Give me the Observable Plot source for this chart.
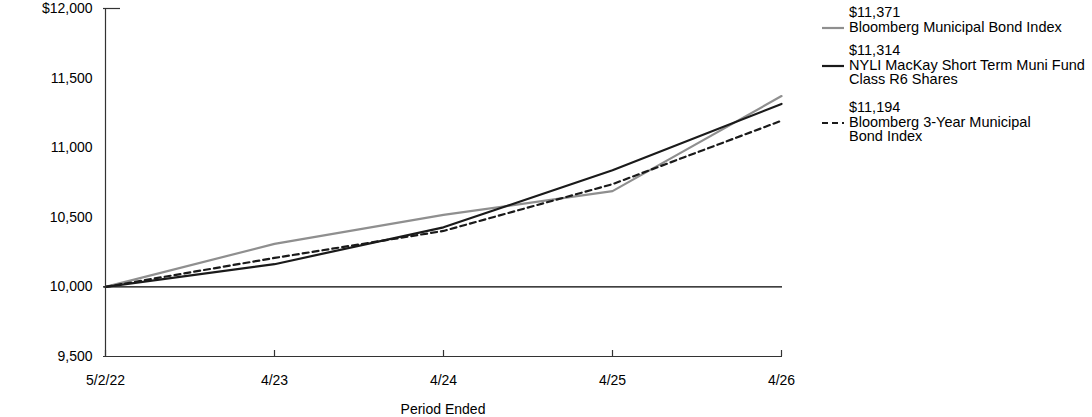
<!DOCTYPE html>
<html>
<head>
<meta charset="utf-8">
<script src="https://cdn.jsdelivr.net/npm/d3@7"></script>
<script src="https://cdn.jsdelivr.net/npm/@observablehq/plot@0.6"></script>
<style>
  html, body { margin: 0; padding: 0; background: #fff; }
  body { font-family: Arial, "Liberation Sans", sans-serif; }
  #wrap { position: relative; width: 1092px; height: 417px; }
  #legend { position: absolute; left: 822px; top: 0; font-size: 14.5px; color: #000; }
  .entry { position: absolute; left: 0; white-space: nowrap; }
  .entry .txt { position: absolute; left: 27px; top: 0; line-height: 14.5px; }
  .entry svg { position: absolute; left: 0; }
</style>
</head>
<body>
<div id="wrap"><div id="legend"></div></div>
<script>
// ---- data ----
const periods = ["5/2/22", "4/23", "4/24", "4/25", "4/26"];
const muniIndex = [10000, 10309, 10517, 10688, 11371];
const fund = [10000, 10163, 10428, 10838, 11314];
const threeYear = [10000, 10208, 10402, 10738, 11194];
const yTicks = [9500, 10000, 10500, 11000, 11500, 12000];

const seriesNames = [
  "Bloomberg Municipal Bond Index",
  "NYLI MacKay Short Term Muni Fund\nClass R6 Shares",
  "Bloomberg 3-Year Municipal\nBond Index"
];
const seriesValues = [muniIndex, fund, threeYear];
const seriesColors = ["#8f8f8f", "#1a1a1a", "#1a1a1a"];
const seriesDash = [null, null, "6,4"];
const legendLabels = ["$11,371", "$11,314", "$11,194"];

const rows = [];
seriesValues.forEach((vals, s) => vals.forEach((v, i) => rows.push({series: s, period: periods[i], value: v})));

const fmt = d3.format(",");
const chart = Plot.plot({
  width: 1092,
  height: 417,
  marginLeft: 103,
  marginRight: 310,
  marginTop: 8,
  marginBottom: 61,
  style: {fontFamily: "Arial, 'Liberation Sans', sans-serif", fontSize: "14px", color: "#000", background: "#fff"},
  x: {type: "point", domain: periods, padding: 0, label: null},
  y: {domain: [9500, 12000], label: null},
  marks: [
    Plot.ruleY([10000], {stroke: "#000", strokeWidth: 1.2}),
    ...seriesValues.map((vals, s) =>
      Plot.line(rows.filter(r => r.series === s), {
        x: "period", y: "value",
        stroke: seriesColors[s], strokeWidth: 2.2,
        strokeDasharray: seriesDash[s] ?? undefined
      })
    ),
    // axis lines
    Plot.ruleY([9500], {stroke: "#333", strokeWidth: 1.2}),
    Plot.ruleX([periods[0]], {y1: 9500, y2: 12000, stroke: "#333", strokeWidth: 1.2}),
    Plot.axisY({ticks: [12000], tickSize: -17, text: null, stroke: "#333", strokeWidth: 1.2}),
    Plot.axisY({ticks: yTicks, tickSize: 0, tickPadding: 11, fontSize: 14,
      tickFormat: d => d === 12000 ? "$" + fmt(d) : fmt(d)}),
    Plot.axisX({tickSize: -6, text: null, stroke: "#333", strokeWidth: 1.2}),
    Plot.axisX({tickSize: 0, tickPadding: 19, fontSize: 14}),
    Plot.text(["Period Ended"], {frameAnchor: "bottom", dy: 57, fontSize: 14, lineAnchor: "bottom"})
  ]
});
document.getElementById("wrap").prepend(chart);
chart.style.position = "absolute";
chart.style.left = "0";
chart.style.top = "0";

// legend
const legend = document.getElementById("legend");
const entryTops = [5, 43, 100];
seriesNames.forEach((name, s) => {
  const e = document.createElement("div");
  e.className = "entry";
  e.style.top = entryTops[s] + "px";
  const txt = document.createElement("div");
  txt.className = "txt";
  txt.innerHTML = [legendLabels[s], ...name.split("\n")].join("<br>");
  e.appendChild(txt);
  const sv = d3.create("svg").attr("width", 22).attr("height", 4)
    .style("top", (14.5 + 6) + "px");
  sv.append("line").attr("x1", 0).attr("x2", 22).attr("y1", 2).attr("y2", 2)
    .attr("stroke", seriesColors[s]).attr("stroke-width", 2.2)
    .attr("stroke-dasharray", seriesDash[s]);
  e.appendChild(sv.node());
  legend.appendChild(e);
});
</script>
</body>
</html>
